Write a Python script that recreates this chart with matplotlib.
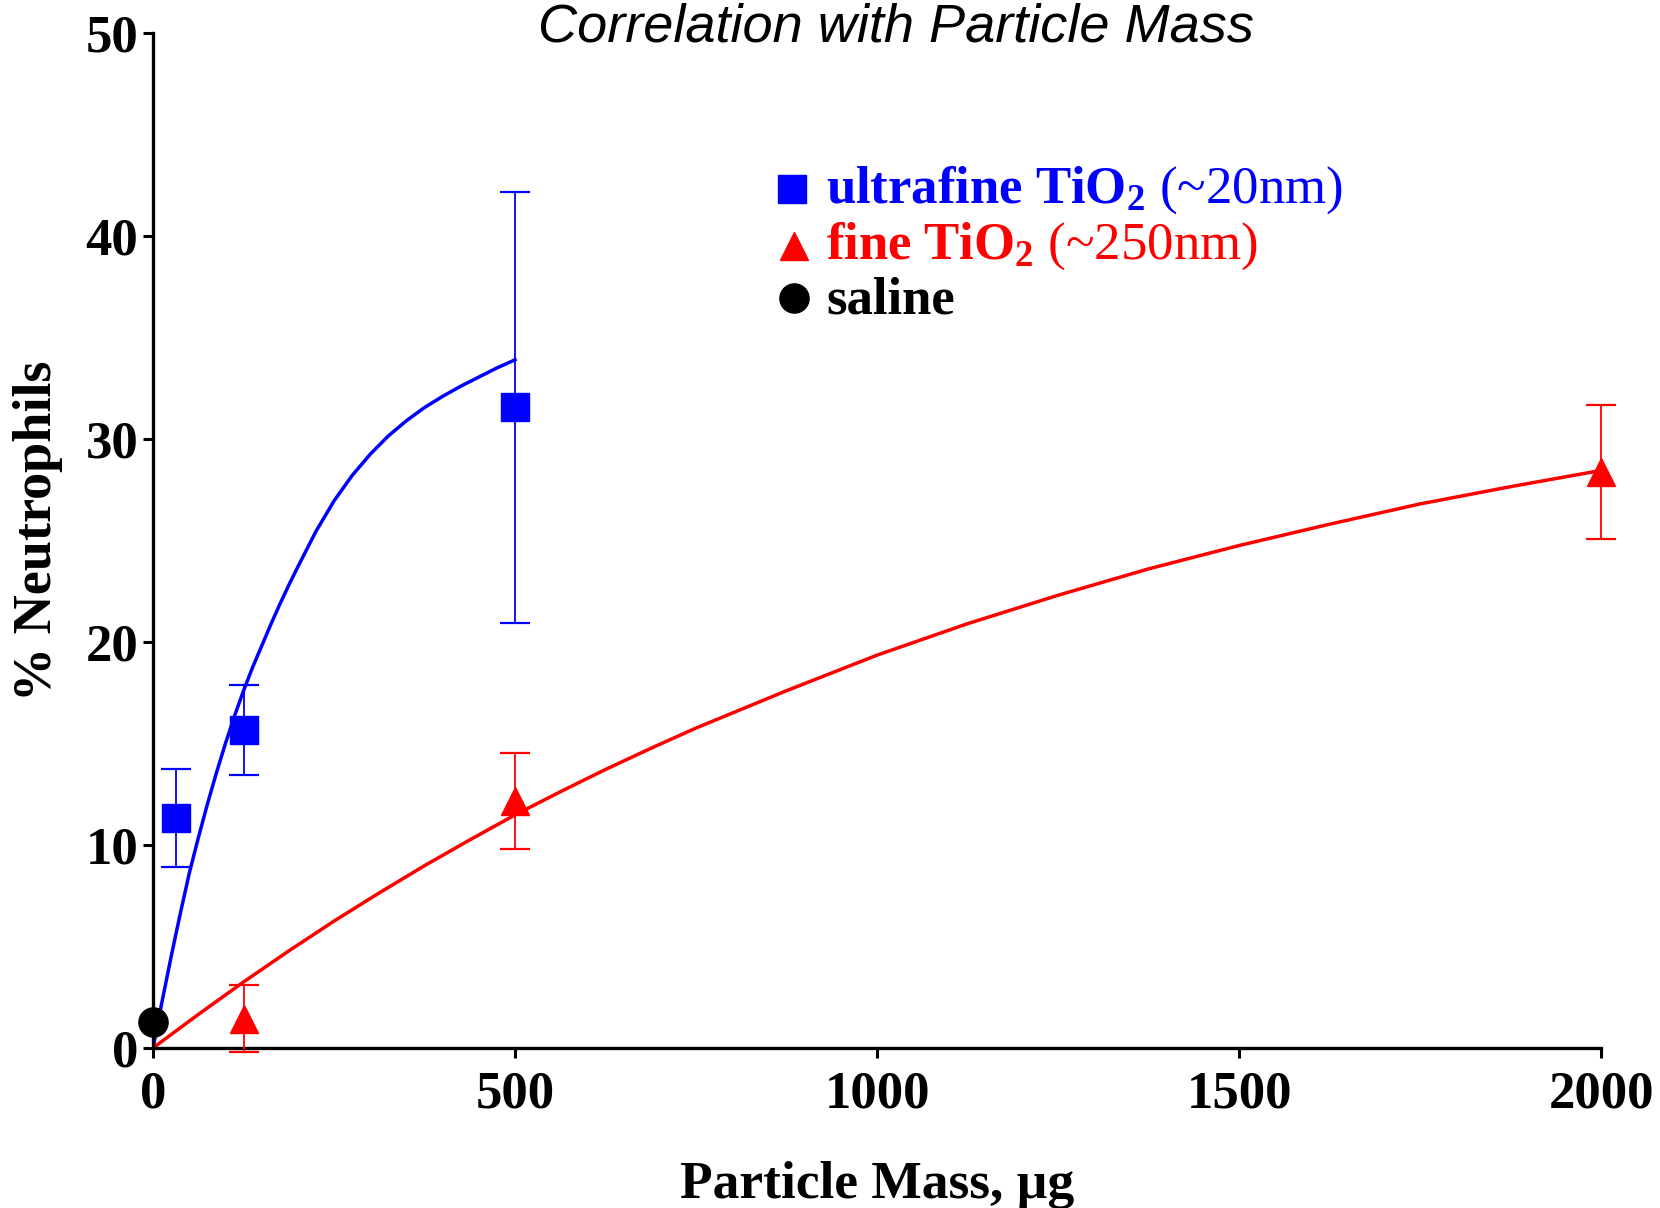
import numpy as np
import matplotlib.pyplot as plt
from matplotlib.lines import Line2D

plt.rcParams['mathtext.fontset'] = 'custom'
plt.rcParams['mathtext.rm'] = 'Liberation Serif'
plt.rcParams['mathtext.it'] = 'Liberation Serif:italic'
plt.rcParams['mathtext.bf'] = 'Liberation Serif:bold'

# mean +/- error
uf_mass = [31.25, 125, 500]
uf_neut = [11.33, 15.67, 31.55]
uf_err = [2.4, 2.2, 10.6]

fine_mass = [125, 500, 2000]
fine_neut = [1.45, 12.15, 28.37]
fine_err = [1.65, 2.37, 3.3]

saline_mass = [0]
saline_neut = [1.27]

# fitted curves
uf_fit_x = [0, 12.5, 25, 37.5, 50, 62.5, 75, 87.5, 100, 112.5, 125, 137.5, 150, 162.5,
            175, 187.5, 200, 225, 250, 275, 300, 325, 350, 375, 400, 425, 450, 475, 500]
uf_fit_y = [0, 2.3, 4.5, 6.6, 8.6, 10.35, 12.0, 13.55, 15.0, 16.35, 17.6, 18.75, 19.8,
            20.85, 21.85, 22.8, 23.7, 25.45, 26.95, 28.2, 29.25, 30.15, 30.9, 31.55,
            32.1, 32.6, 33.05, 33.5, 33.9]

fine_fit_x = [0, 62.5, 125, 187.5, 250, 312.5, 375, 437.5, 500, 562.5, 625, 687.5, 750,
              875, 1000, 1125, 1250, 1375, 1500, 1625, 1750, 1875, 2000]
fine_fit_y = [0, 1.65, 3.25, 4.78, 6.25, 7.64, 8.98, 10.25, 11.48, 12.62, 13.72, 14.76,
              15.76, 17.6, 19.35, 20.9, 22.3, 23.6, 24.75, 25.8, 26.8, 27.65, 28.45]

x_ticks = [0, 500, 1000, 1500, 2000]
y_ticks = [0, 10, 20, 30, 40, 50]

serif = 'Liberation Serif'

fig = plt.figure(figsize=(16.6, 12.08), dpi=100)
ax = fig.add_axes([0.0922, 0.1325, 0.8723, 0.8402])

ax.plot(uf_fit_x, uf_fit_y, color='blue', lw=2.5, zorder=2)
ax.plot(fine_fit_x, fine_fit_y, color='red', lw=2.5, zorder=2)

ax.errorbar(uf_mass, uf_neut, yerr=uf_err, fmt='s', color='blue', ms=20,
            elinewidth=1.3, capsize=10.5, capthick=1.6, clip_on=False, zorder=3)
ax.errorbar(fine_mass, fine_neut, yerr=fine_err, fmt='^', color='red', ms=20,
            elinewidth=1.3, capsize=10.5, capthick=1.6, clip_on=False, zorder=3)
ax.plot(saline_mass, saline_neut, 'o', color='black', ms=21, clip_on=False, zorder=4)

ax.set_xlim(0, 2000)
ax.set_ylim(0, 50)
ax.set_xticks(x_ticks)
ax.set_yticks(y_ticks)

for s in ['top', 'right']:
    ax.spines[s].set_visible(False)
for s in ['left', 'bottom']:
    ax.spines[s].set_linewidth(2.4)

ax.tick_params(axis='both', width=2.2, length=7.5, direction='out')
ax.tick_params(axis='x', pad=9)
ax.tick_params(axis='y', pad=3)
for lab in ax.get_xticklabels() + ax.get_yticklabels():
    lab.set_fontfamily(serif)
    lab.set_fontweight('bold')
    lab.set_fontsize(38)

ax.set_xlabel('Particle Mass, µg', fontfamily=serif, fontweight='bold', fontsize=38.5)
ax.set_ylabel('% Neutrophils', fontfamily=serif, fontweight='bold', fontsize=39)
ax.xaxis.set_label_coords(0.5, -0.111)
ax.yaxis.set_label_coords(-0.062, 0.51)

fig.text(0.54, 1 - 42 / 1208, 'Correlation with Particle Mass', ha='center',
         va='baseline', fontfamily='Liberation Sans', style='italic', fontsize=39)

# legend drawn by hand
fig.add_artist(Line2D([0.4771], [1 - 188.5 / 1208], marker='s', ms=20, color='blue',
                      ls='none', transform=fig.transFigure))
fig.add_artist(Line2D([0.4783], [1 - 246 / 1208], marker='^', ms=20, color='red',
                      ls='none', transform=fig.transFigure))
fig.add_artist(Line2D([0.4783], [1 - 297.5 / 1208], marker='o', ms=21, color='black',
                      ls='none', transform=fig.transFigure))

lx = 826 / 1660
fig.text(lx, 1 - 203 / 1208, r'$\mathbf{ultrafine\ TiO_2}$ (~20nm)', color='blue',
         fontfamily=serif, fontsize=38, va='baseline')
fig.text(lx, 1 - 259 / 1208, r'$\mathbf{fine\ TiO_2}$ (~250nm)', color='red',
         fontfamily=serif, fontsize=38, va='baseline')
fig.text(lx, 1 - 313 / 1208, 'saline', color='black', fontfamily=serif,
         fontweight='bold', fontsize=38, va='baseline')

plt.savefig('out.png', dpi=100)
